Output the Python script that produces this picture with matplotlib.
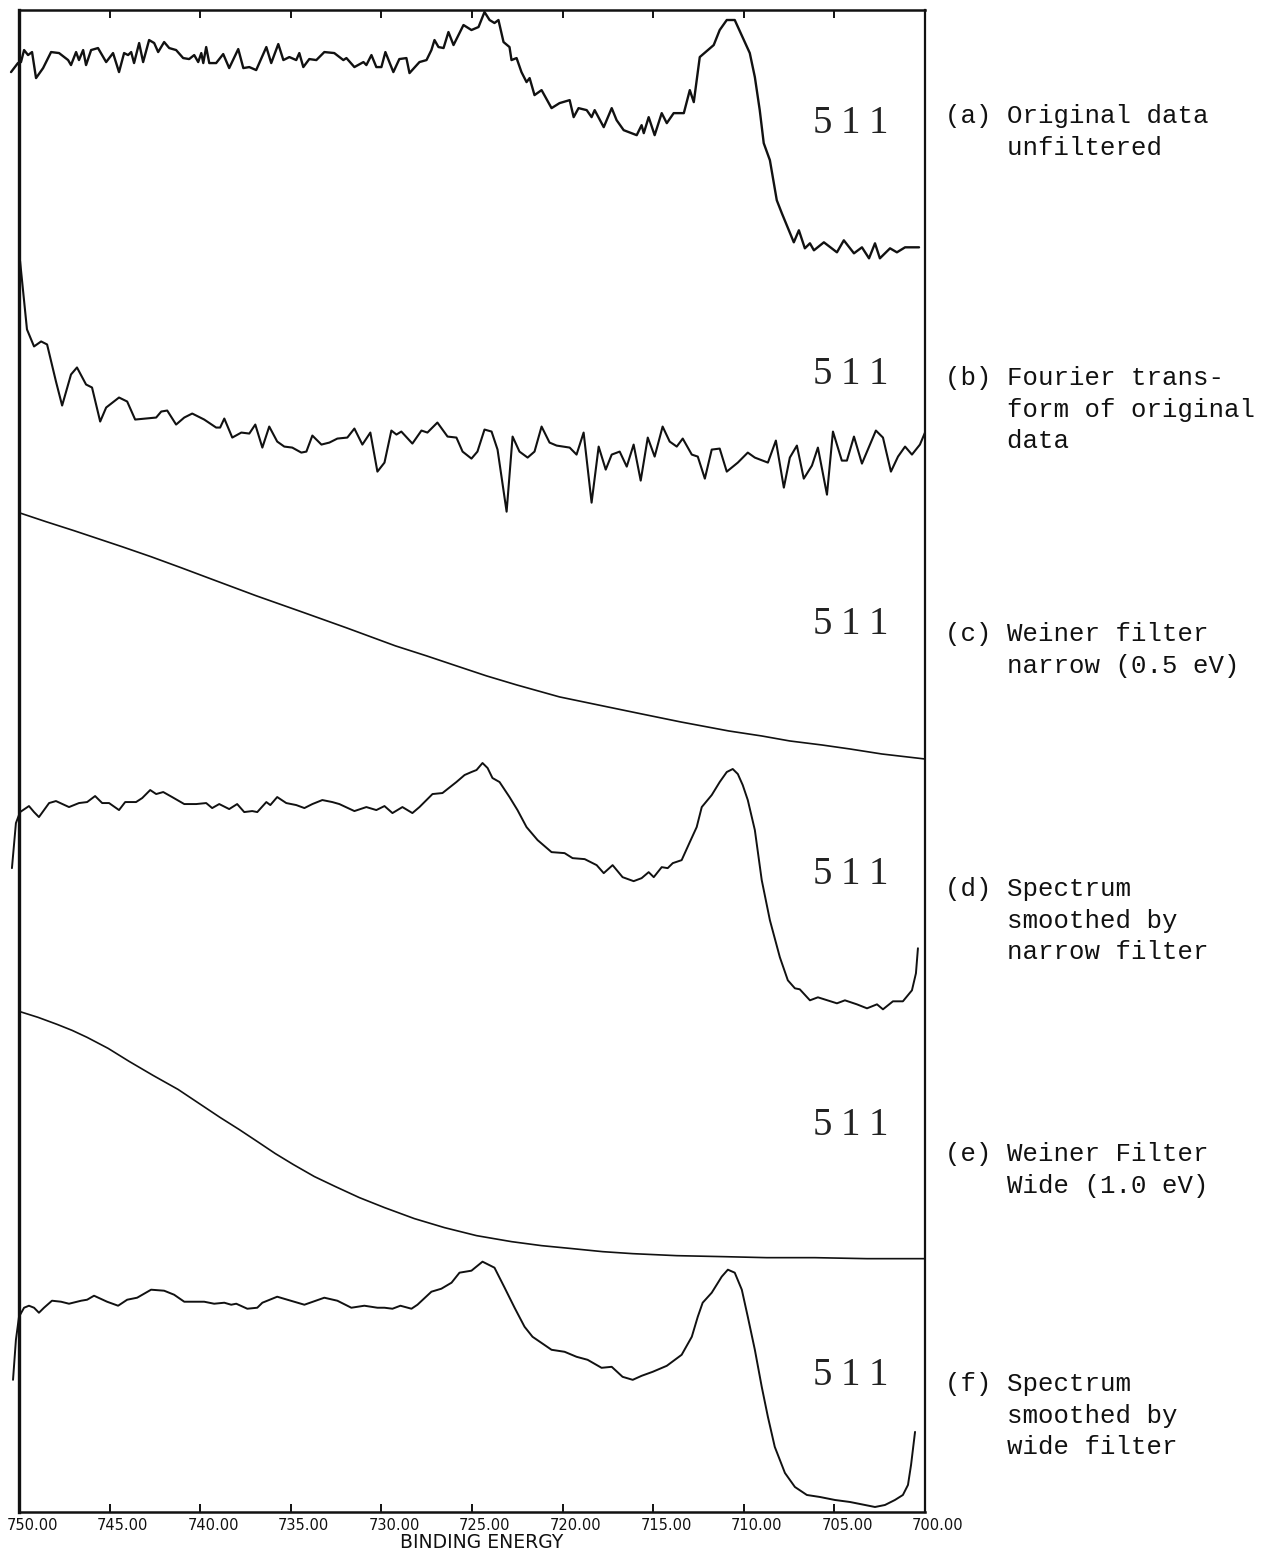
import numpy as np
import matplotlib
matplotlib.use("Agg")
import matplotlib.pyplot as plt
from matplotlib.transforms import ScaledTranslation, blended_transform_factory

# ---------------------------------------------------------------------------
# Spectra (binding energy in eV, intensity in relative units, 0-250 per band)
# ---------------------------------------------------------------------------

# (a) original data, unfiltered
be_a = [750.44, 750.06, 749.89, 749.72, 749.50, 749.28, 749.06, 748.67, 748.23, 747.79,
        747.29, 747.13, 746.85, 746.69, 746.46, 746.30, 746.02, 745.64, 745.19, 744.81,
        744.48, 744.20, 743.98, 743.81, 743.65, 743.37, 743.15, 742.82, 742.54, 742.32,
        741.99, 741.71, 741.33, 740.94, 740.61, 740.33, 740.11, 739.94, 739.83, 739.67,
        739.50, 739.12, 738.73, 738.40, 737.90, 737.62, 737.29, 736.91, 736.35, 736.08,
        735.69, 735.41, 735.08, 734.70, 734.53, 734.31, 733.98, 733.59, 733.15, 732.60,
        732.10, 731.93, 731.49, 730.99, 730.83, 730.55, 730.28, 730.00, 729.78, 729.34,
        729.01, 728.62, 728.45, 727.90, 727.51, 727.24, 727.07, 726.85, 726.57, 726.30,
        726.02, 725.47, 725.03, 724.64, 724.31, 724.03, 723.76, 723.54, 723.26, 722.93,
        722.82, 722.54, 722.27, 721.99, 721.82, 721.55, 721.16, 720.61, 720.17, 719.61,
        719.39, 719.12, 718.67, 718.40, 718.23, 717.73, 717.29, 717.02, 716.63, 715.91,
        715.64, 715.52, 715.25, 714.92, 714.53, 714.25, 713.87, 713.31, 712.98, 712.76,
        712.43, 711.66, 711.33, 710.94, 710.50, 710.00, 709.67, 709.39, 709.12, 708.90,
        708.56, 708.18, 707.90, 707.51, 707.24, 706.96, 706.63, 706.35, 706.13, 705.58,
        704.86, 704.48, 703.92, 703.48, 703.09, 702.76, 702.49, 701.93, 701.55, 701.10,
        700.33]
int_a = [188, 197, 198, 210, 205, 208, 182, 192, 208, 207,
         200, 195, 208, 200, 210, 195, 210, 212, 198, 207,
         188, 207, 205, 208, 197, 217, 198, 220, 217, 208,
         218, 212, 210, 202, 201, 205, 198, 207, 197, 213,
         197, 197, 206, 192, 211, 192, 193, 190, 213, 197,
         216, 200, 203, 200, 207, 193, 201, 200, 208, 207,
         200, 202, 193, 198, 195, 205, 193, 193, 208, 188,
         201, 202, 187, 198, 200, 210, 220, 213, 212, 228,
         215, 235, 230, 233, 248, 240, 237, 240, 218, 213,
         200, 202, 188, 178, 182, 165, 170, 152, 157, 160,
         143, 152, 150, 143, 150, 133, 152, 140, 130, 125,
         135, 127, 143, 125, 147, 137, 147, 147, 170, 158,
         203, 215, 230, 240, 240, 220, 207, 183, 150, 117,
         100, 60, 47, 30, 18, 30, 12, 17, 10, 18,
         8, 20, 7, 13, 2, 17, 2, 12, 8, 13,
         13]

# (b) Fourier transform of original data
be_b = [749.94, 749.56, 749.17, 748.78, 748.45, 747.96, 747.62, 747.13, 746.80, 746.30,
        745.97, 745.52, 745.19, 744.48, 744.03, 743.59, 742.43, 742.15, 741.82, 741.33,
        740.88, 740.44, 739.78, 739.12, 738.90, 738.67, 738.23, 737.73, 737.29, 736.96,
        736.57, 736.19, 735.75, 735.36, 734.92, 734.42, 734.14, 733.81, 733.31, 732.87,
        732.43, 731.88, 731.49, 731.05, 730.61, 730.22, 729.83, 729.45, 729.17, 728.90,
        728.29, 727.79, 727.46, 726.91, 726.35, 725.86, 725.52, 725.03, 724.70, 724.31,
        723.92, 723.59, 723.09, 722.76, 722.38, 721.93, 721.55, 721.16, 720.72, 720.33,
        719.61, 719.23, 718.84, 718.40, 718.01, 717.62, 717.29, 716.85, 716.46, 716.08,
        715.69, 715.30, 714.92, 714.48, 714.09, 713.70, 713.37, 712.87, 712.54, 712.15,
        711.77, 711.33, 710.94, 710.33, 709.78, 709.39, 708.67, 708.23, 707.79, 707.46,
        707.07, 706.69, 706.24, 705.91, 705.41, 705.08, 704.59, 704.31, 703.92, 703.48,
        702.71, 702.32, 701.88, 701.49, 701.10, 700.72, 700.28, 700.00]
int_b = [249, 181, 164, 169, 166, 129, 105, 136, 143, 126,
         123, 89, 103, 113, 109, 91, 93, 99, 100, 86,
         93, 97, 91, 83, 83, 92, 73, 78, 77, 86,
         63, 84, 69, 64, 63, 58, 59, 75, 66, 68,
         72, 73, 82, 66, 78, 39, 48, 80, 76, 79,
         67, 80, 78, 88, 74, 73, 59, 52, 59, 81,
         79, 61, -1, 74, 59, 53, 59, 84, 68, 65,
         63, 56, 78, 8, 64, 41, 56, 59, 44, 66,
         30, 73, 54, 84, 69, 64, 72, 56, 54, 32,
         61, 62, 39, 48, 58, 53, 48, 70, 23, 53,
         65, 32, 45, 63, 16, 79, 50, 50, 74, 47,
         80, 73, 39, 54, 64, 56, 66, 78]

# (c) Weiner filter, narrow (0.5 eV)
be_c = [750.00, 748.51, 746.96, 745.47, 744.31, 742.71, 741.05, 739.28, 736.91, 734.25,
        731.93, 729.23, 727.51, 725.86, 724.20, 722.54, 720.17, 717.51, 715.64, 713.48,
        710.83, 709.01, 707.46, 705.69, 704.14, 702.38, 700.00]
int_c = [248, 239, 230, 221, 214, 204, 193, 181, 165, 148,
         133, 115, 105, 95, 85, 76, 64, 54, 47, 39,
         30, 25, 20, 16, 12, 7, 2]

# (d) spectrum smoothed by narrow filter
be_d = [750.39, 750.17, 749.94, 749.45, 749.17, 748.90, 748.34, 747.96, 747.24, 746.69,
        746.24, 745.80, 745.41, 745.03, 744.48, 744.14, 743.54, 743.20, 742.76, 742.43,
        742.04, 741.55, 740.88, 740.22, 739.67, 739.34, 738.95, 738.40, 737.96, 737.57,
        737.13, 736.85, 736.35, 736.13, 735.75, 735.25, 734.70, 734.25, 733.81, 733.26,
        732.71, 732.32, 731.49, 730.83, 730.28, 729.83, 729.39, 728.84, 728.29, 727.90,
        727.18, 726.63, 725.86, 725.41, 725.03, 724.75, 724.42, 724.14, 723.87, 723.48,
        722.93, 722.49, 721.99, 721.38, 720.61, 719.89, 719.45, 718.78, 718.12, 717.73,
        717.24, 716.69, 716.08, 715.64, 715.25, 714.97, 714.53, 714.20, 713.92, 713.43,
        712.98, 712.60, 712.32, 711.77, 711.33, 710.94, 710.61, 710.33, 710.06, 709.78,
        709.39, 709.01, 708.56, 708.01, 707.57, 707.18, 706.91, 706.35, 705.91, 704.86,
        704.42, 703.76, 703.20, 702.65, 702.32, 701.77, 701.22, 700.72, 700.50, 700.39]
int_d = [143, 188, 199, 205, 199, 194, 208, 210, 204, 208,
         209, 215, 208, 208, 201, 209, 209, 213, 221, 217,
         219, 214, 207, 207, 208, 203, 207, 202, 207, 199,
         200, 199, 209, 206, 214, 208, 206, 203, 207, 211,
         209, 207, 200, 204, 201, 205, 198, 204, 198, 204,
         217, 218, 229, 236, 239, 241, 248, 243, 233, 229,
         214, 201, 184, 171, 159, 158, 153, 152, 146, 138,
         146, 134, 130, 133, 139, 134, 144, 143, 148, 151,
         169, 184, 204, 216, 229, 239, 242, 237, 226, 211,
         181, 131, 91, 54, 31, 23, 22, 11, 14, 8,
         11, 7, 3, 7, 2, 10, 10, 21, 38, 63]

# (e) Weiner filter, wide (1.0 eV)
be_e = [750.00, 748.95, 747.90, 747.07, 746.24, 745.08, 743.92, 742.60, 741.22, 740.06,
        738.90, 737.85, 736.85, 735.86, 734.86, 733.70, 732.54, 731.22, 729.83, 728.18,
        726.52, 724.75, 722.82, 721.16, 719.45, 717.79, 716.13, 713.70, 711.10, 708.73,
        706.08, 703.20, 700.00]
int_e = [250, 244, 237, 231, 224, 213, 200, 186, 172, 158,
         144, 132, 120, 108, 97, 85, 75, 64, 54, 43,
         34, 26, 20, 16, 13, 10, 8, 6, 5, 4,
         4, 3, 3]

# (f) spectrum smoothed by wide filter
be_f = [750.33, 750.17, 750.00, 749.72, 749.45, 749.17, 748.90, 748.62, 748.18, 747.68,
        747.24, 746.57, 746.24, 745.86, 745.14, 744.53, 744.03, 743.48, 742.71, 741.99,
        741.44, 740.88, 739.78, 739.23, 738.67, 738.29, 738.01, 737.40, 736.85, 736.57,
        735.75, 735.19, 734.25, 733.15, 732.43, 731.66, 730.94, 730.22, 729.83, 729.39,
        728.95, 728.34, 728.01, 727.24, 726.69, 726.13, 725.69, 725.03, 724.42, 723.76,
        723.20, 722.65, 722.10, 721.66, 720.61, 719.89, 719.23, 718.62, 717.85, 717.29,
        716.69, 716.13, 715.64, 715.03, 714.25, 713.43, 712.87, 712.54, 712.27, 711.77,
        711.22, 710.88, 710.50, 710.11, 709.78, 709.39, 709.01, 708.67, 708.29, 707.73,
        707.18, 706.52, 705.80, 704.97, 704.14, 703.31, 702.76, 702.21, 701.66, 701.22,
        700.94, 700.77, 700.55]
int_f = [132, 172, 195, 204, 206, 204, 199, 204, 211, 210,
         208, 211, 212, 216, 210, 206, 212, 214, 222, 221,
         217, 210, 210, 208, 209, 207, 208, 203, 204, 209,
         215, 212, 207, 214, 211, 204, 206, 204, 204, 203,
         206, 203, 207, 220, 223, 229, 239, 241, 250, 244,
         224, 204, 185, 175, 162, 160, 155, 152, 144, 145,
         135, 132, 136, 140, 146, 157, 175, 195, 209, 219,
         235, 242, 239, 222, 195, 162, 125, 95, 65, 39,
         25, 17, 15, 12, 10, 7, 5, 7, 12, 17,
         27, 47, 80]

panel_tags = ["(a)", "(b)", "(c)", "(d)", "(e)", "(f)"]
panel_texts = [
    ["Original data", "unfiltered"],
    ["Fourier trans-", "form of original", "data"],
    ["Weiner filter", "narrow (0.5 eV)"],
    ["Spectrum", "smoothed by", "narrow filter"],
    ["Weiner Filter", "Wide (1.0 eV)"],
    ["Spectrum", "smoothed by", "wide filter"],
]
run_number = "511"
energy_ticks = [750, 745, 740, 735, 730, 725, 720, 715, 710, 705, 700]

# ---------------------------------------------------------------------------
W, H, DPI = 1264, 1552, 100
BAND = 250.0          # intensity units spanned by one stacked band
INK = "#111111"

fig = plt.figure(figsize=(W / DPI, H / DPI), dpi=DPI)
fig.patch.set_facecolor("white")
ax = fig.add_axes([19 / W, 40 / H, 906 / W, 1502 / H])
ax.set_xlim(750, 700)
ax.set_ylim(0, 6)

series = [(be_a, int_a, 1.7), (be_b, int_b, 1.5), (be_c, int_c, 1.2),
          (be_d, int_d, 1.4), (be_e, int_e, 1.2), (be_f, int_f, 1.4)]
for k, (be, inten, lw) in enumerate(series):
    offset = 5 - k
    y = offset + np.asarray(inten, dtype=float) / BAND
    ax.plot(be, y, color=INK, lw=lw, clip_on=False,
            solid_joinstyle="round", solid_capstyle="round")

# frame and ticks
for side, lw in (("left", 2.4), ("right", 1.6), ("top", 1.8), ("bottom", 1.8)):
    ax.spines[side].set_linewidth(lw)
    ax.spines[side].set_color(INK)
ax.set_yticks([])
ax.set_xticks(energy_ticks)
ax.tick_params(axis="x", direction="in", top=True, bottom=True, length=6,
               width=1.4, color=INK, labelbottom=False)

# tick labels written by the plotter, set slightly right of each tick
lab_tf = blended_transform_factory(ax.transData, ax.transAxes) + \
    ScaledTranslation(13 / DPI, -6 / DPI, fig.dpi_scale_trans)
for t in energy_ticks:
    ax.text(t, 0, f"{t:.2f}", transform=lab_tf, ha="center", va="top",
            fontsize=10.5, family="DejaVu Sans", color=INK)
fig.text(482 / W, 1 - 1533 / H, "BINDING ENERGY", ha="center", va="top",
         fontsize=13.5, family="DejaVu Sans", color=INK)

# run number inside each band
for k in range(6):
    yb = (5 - k) + 0.545
    base = blended_transform_factory(ax.transAxes, ax.transData)
    for j, ch in enumerate(run_number):
        tf = base + ScaledTranslation((j - 1) * 28 / DPI, 0, fig.dpi_scale_trans)
        ax.text(0.918, yb, ch, transform=tf, ha="center", va="center",
                fontsize=28, family="Liberation Serif", color="#222222")

# captions to the right of the frame
caption_tops = [104, 366, 622, 877, 1142, 1372]
for k in range(6):
    lines = [f"{panel_tags[k]} {panel_texts[k][0]}"] + \
            ["    " + s for s in panel_texts[k][1:]]
    fig.text(945 / W, 1 - caption_tops[k] / H, "\n".join(lines),
             ha="left", va="top", fontsize=18.5, family="Liberation Mono",
             linespacing=1.40, color=INK)

fig.savefig("out.png", dpi=DPI, facecolor="white")
